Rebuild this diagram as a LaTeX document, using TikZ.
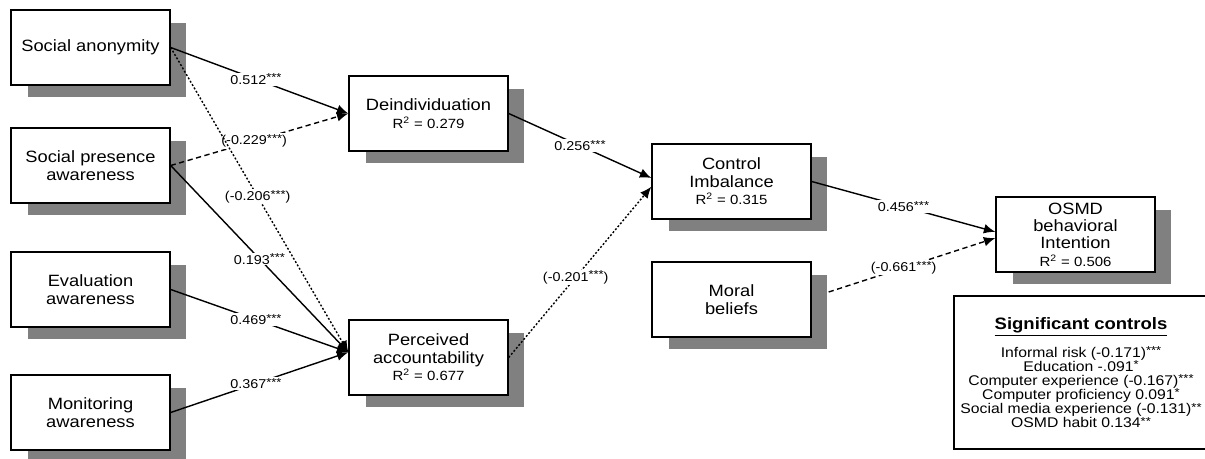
\documentclass[tikz,border=0pt]{standalone}
\usepackage{fontspec}
\setmainfont{Liberation Sans}[FakeStretch=1.12]
\usetikzlibrary{arrows.meta}
\usetikzlibrary{shadows}
\usepackage{xcolor}

\newcommand{\sig}[1]{\raisebox{1.4pt}{\fontsize{6.6}{6}\selectfont #1}}
\newcommand{\rsq}[1]{{\fontsize{7.6}{9.9}\selectfont R\textsuperscript{2} = #1}}

\begin{document}
\begin{tikzpicture}[x=0.02cm, y=-0.02cm,
  box/.style={draw, thick, fill=white, minimum width=3.18cm, minimum height=1.5cm, inner sep=1pt, align=center,
    font=\fontsize{9.3}{9.9}\selectfont,
    drop shadow={shadow xshift=0.33cm, shadow yshift=-0.25cm, fill=black!50, opacity=1}},
  coef/.style={fill=white, inner sep=0.6pt, font=\fontsize{7.3}{8}\selectfont},
  dots/.style={dash pattern=on 1.1pt off 1.1pt},
  link/.style={thick, ->, >={Latex[length=6.5pt,width=5.5pt]}}]
\useasboundingbox (0,0) rectangle (1205,459);
\foreach \n/\y/\t in {sa/47.5/{Social anonymity}, spa/165.5/{Social presence\\awareness},
  ea/289.5/{Evaluation\\awareness}, ma/412.5/{Monitoring\\awareness}}
  \node[box] (\n) at (90.5,\y) {\t};
\node[box] (dei) at (428.5,113.5) {Deindividuation\\\rsq{0.279}};
\node[box] (pa) at (428.5,357.5) {Perceived\\accountability\\\rsq{0.677}};
\node[box] (ci) at (731.5,181.5) {Control\\Imbalance\\\rsq{0.315}};
\node[box] (mb) at (731.5,299.5) {Moral\\beliefs};
\node[box] (osmd) at (1075.5,234.5) {OSMD\\behavioral\\Intention\\\rsq{0.506}};
\node[draw, thick, minimum width=5.08cm, minimum height=3.06cm, align=center,
  font=\fontsize{8}{8}\selectfont] (ctrl) at (1081,372.5)
  {{\fontsize{9.4}{10}\selectfont\bfseries\underline{Significant controls}}\\[5pt]
   Informal risk (-0.171)\sig{***}\\ Education -.091\sig{*}\\
   Computer experience (-0.167)\sig{***}\\ Computer proficiency 0.091\sig{*}\\
   Social media experience (-0.131)\sig{**}\\ OSMD habit 0.134\sig{**}};

\draw[link] (sa.east) -- node[coef, pos=.48] {0.512\sig{***}} (dei.west);
\draw[link, densely dashed] (spa.east) -- node[coef, pos=.47] {(-0.229\sig{***})} (dei.west);
\draw[link, dots] (sa.east) -- node[coef, pos=.49] {(-0.206\sig{***})} ([yshift=3pt]pa.west);
\draw[link] (spa.east) -- node[coef, pos=.5] {0.193\sig{***}} ([yshift=3pt]pa.west);
\draw[link] (ea.east) -- node[coef, pos=.48] {0.469\sig{***}} ([yshift=3pt]pa.west);
\draw[link] (ma.east) -- node[coef, pos=.48] {0.367\sig{***}} ([yshift=3pt]pa.west);
\draw[link] (dei.east) -- node[coef, pos=.5] {0.256\sig{***}} ([yshift=2pt]ci.west);
\draw[link, dots] (pa.east) -- node[coef, pos=.47] {(-0.201\sig{***})} ([yshift=-3pt]ci.west);
\draw[link] (ci.east) -- node[coef, pos=.5] {0.456\sig{***}} ([yshift=1.5pt]osmd.west);
\draw[link, densely dashed] ([shift={(0.34cm,0.15cm)}]mb.east) -- node[coef, pos=.45] {(-0.661\sig{***})} ([yshift=-2pt]osmd.west);
\end{tikzpicture}
\end{document}
